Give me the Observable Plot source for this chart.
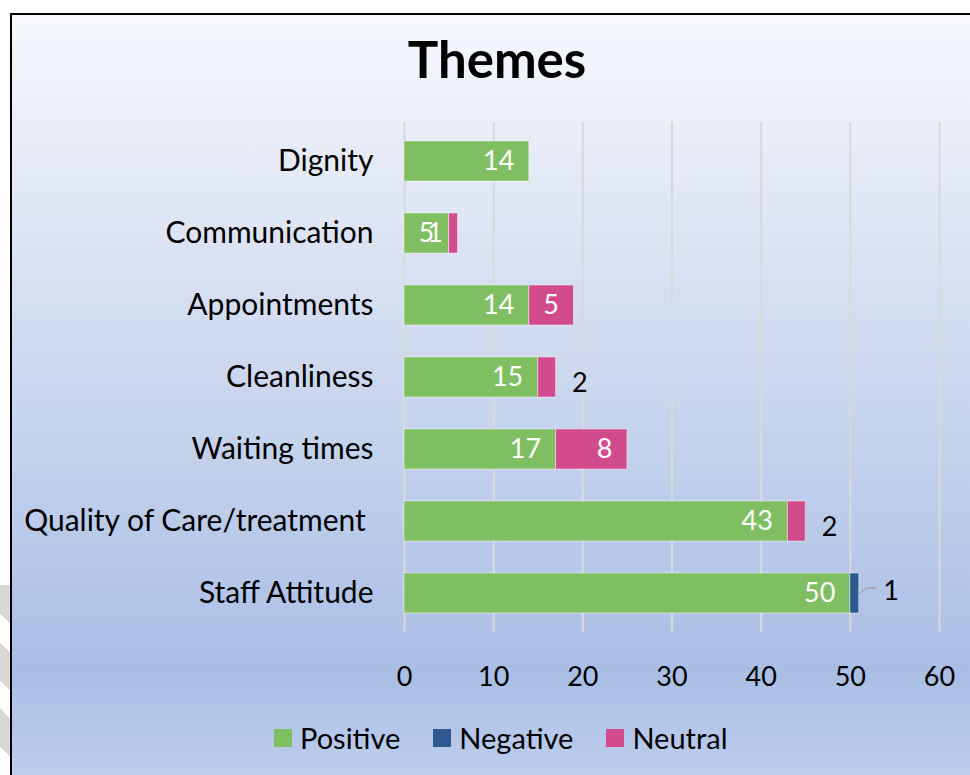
<!DOCTYPE html>
<html><head><meta charset="utf-8">
<script src="https://cdn.jsdelivr.net/npm/d3@7"></script>
<script src="https://cdn.jsdelivr.net/npm/@observablehq/plot@0.6"></script>
<style>
html,body{margin:0;padding:0;}
body{width:970px;height:775px;overflow:hidden;background:#fff;position:relative;font-family:Lato,"Open Sans",sans-serif;}
#wm{position:absolute;left:0;top:585px;width:10px;height:190px;
 background:repeating-linear-gradient(45deg,#ffffff 0px,#ffffff 20px,#d8d8d4 20px,#d8d8d4 47px);}
#box{position:absolute;left:10px;top:13px;width:990px;height:800px;border-left:2px solid #000;border-top:2px solid #000;
 background:linear-gradient(to bottom,#f6f8fc 0%,#dfe6f4 25%,#c3d1ec 55%,#aabee5 82%,#c4d3ef 100%);}
#title{position:absolute;left:497px;top:28px;transform:translateX(-50%);font-weight:700;font-size:51px;line-height:1.2;color:#000;white-space:nowrap;}
#chart{position:absolute;left:0;top:100px;}
#chart svg text{white-space:pre;}
#legend{position:absolute;left:274px;top:720px;display:flex;align-items:center;font-size:29px;line-height:36px;color:#000;}
#legend .item{display:flex;align-items:center;margin-right:33px;}
#legend .sw{width:18px;height:18px;margin-right:8px;}
</style>
</head><body>
<div id="wm"></div>
<div id="box"></div>
<div id="title">Themes</div>
<div id="chart"></div>
<div id="legend"></div>
<script>
const categories = ["Dignity","Communication","Appointments","Cleanliness","Waiting times","Quality of Care/treatment ","Staff Attitude"];
const series = ["Positive","Negative","Neutral"];
const positive = [14,5,14,15,17,43,50];
const negative = [0,0,0,0,0,0,1];
const neutral = [0,1,5,2,8,2,0];
const colors = ["#7fbf62","#2d5890","#d24b8c"];
const xTicks = [0,10,20,30,40,50,60];

const seriesValues = [positive, negative, neutral];
const rows = [];
categories.forEach((c, i) => {
  seriesValues.forEach((arr, j) => {
    if (arr[i] > 0) rows.push({category: c, series: series[j], value: arr[i]});
  });
});

// labels that Excel placed outside the bar end
const isOutsideNeutral = d => d.series === "Neutral" && d.value === 2;
const isNegative = d => d.series === "Negative";
const isInside = d => !isOutsideNeutral(d) && !isNegative(d);

const chart = Plot.plot({
  width: 970,
  height: 600,
  marginLeft: 404,
  marginRight: 31,
  marginTop: 22,
  marginBottom: 68,
  style: {fontFamily: "Lato, 'Open Sans', sans-serif", fontSize: "27px", color: "#000", background: "transparent", overflow: "visible"},
  x: {domain: [0, 60]},
  y: {domain: categories, paddingInner: 0.44, paddingOuter: 0.22},
  color: {domain: series, range: colors},
  marks: [
    Plot.gridX({ticks: xTicks, stroke: "#d9d9d9", strokeOpacity: 1, strokeWidth: 2}),
    Plot.barX(rows, Plot.stackX({x: "value", y: "category", fill: "series", stroke: "#ffffff", strokeOpacity: 0.45, strokeWidth: 1})),
    Plot.axisY({tickSize: 0, tickPadding: 31, fontSize: 30, label: null}),
    Plot.axisX({ticks: xTicks, tickSize: 0, tickPadding: 34, fontSize: 27, label: null}),
    Plot.text(rows, Plot.stackX2({x: "value", y: "category", z: "series",
      text: d => isInside(d) ? String(d.value) : null,
      textAnchor: "end", dx: -15, fill: "white", fontSize: 27})),
    Plot.text(rows, Plot.stackX2({x: "value", y: "category", z: "series",
      text: d => isOutsideNeutral(d) ? String(d.value) : null,
      textAnchor: "start", dx: 16, dy: 6, fill: "black", fontSize: 27})),
    Plot.text(rows, Plot.stackX2({x: "value", y: "category", z: "series",
      text: d => isNegative(d) ? String(d.value) : null,
      textAnchor: "start", dx: 24, dy: -2, fill: "black", fontSize: 27}))
  ]
});
document.getElementById("chart").appendChild(chart);

// leader line for the negative label, positioned with the chart's scales
const sx = chart.scale("x"), sy = chart.scale("y");
const svg = d3.select(chart);
categories.forEach((c, i) => {
  if (negative[i] > 0) {
    const xe = sx.apply(positive[i] + negative[i]);
    const yc = sy.apply(c) + sy.bandwidth / 2;
    svg.append("path")
      .attr("d", `M${xe},${yc + 1}L${xe + 8},${yc - 5}L${xe + 18},${yc - 5}`)
      .attr("fill", "none").attr("stroke", "#a6a6a6").attr("stroke-width", 1.5);
  }
});

const legend = d3.select("#legend");
series.forEach((s, j) => {
  const it = legend.append("div").attr("class", "item");
  it.append("div").attr("class", "sw").style("background", colors[j]);
  it.append("span").text(s);
});
</script>
</body></html>
